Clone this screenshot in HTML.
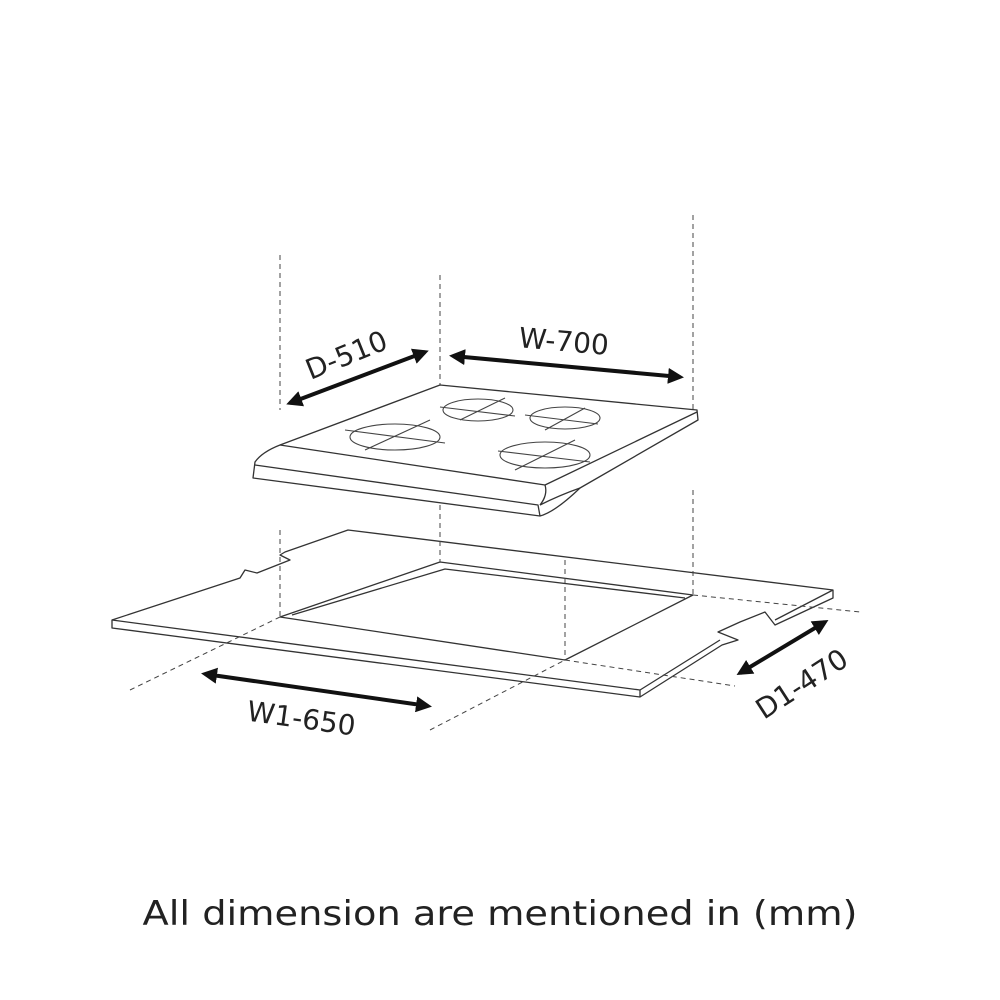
<!DOCTYPE html>
<html><head><style>
html,body{margin:0;padding:0;background:#fff;}
svg{display:block;}
text{font-family:"DejaVu Sans","Liberation Sans",sans-serif;fill:#222;}
</style></head><body>
<svg width="1000" height="1000" viewBox="0 0 1000 1000">
<defs>
<marker id="ah" markerWidth="4" markerHeight="4" refX="3" refY="2" orient="auto-start-reverse" markerUnits="strokeWidth">
<path d="M0,0 L4,2 L0,4 z" fill="#111"/></marker>
</defs>
<g stroke="#333" stroke-width="1.3" fill="#fff" stroke-linejoin="round">
<!-- counter -->
<path d="M112,620 L240,578 L245,570 L257,573 L290,560 L280,555 L285,552 L348,530 L833,590 L833,598 L775,625 L765,612 L740,622 L718,632 L738,640 L722,645 L640,697 L112,628 Z"/>
<path d="M112,620 L640,690 L720,640 M775,620 L833,590" fill="none"/>
<path d="M640,690 L640,697" fill="none"/>
<path d="M280,617 L440,562 L693,595 L565,660 Z"/>
<path d="M292,615 L445,569 L685,598" fill="none"/>
</g>
<g stroke="#444" stroke-width="1" stroke-dasharray="5,4" fill="none">
<line x1="280" y1="255" x2="280" y2="410"/>
<line x1="440" y1="275" x2="440" y2="385"/>
<line x1="693" y1="215" x2="693" y2="410"/>
<line x1="693" y1="490" x2="693" y2="595"/>
<line x1="440" y1="505" x2="440" y2="562"/>
<line x1="280" y1="530" x2="280" y2="617"/>
<line x1="565" y1="560" x2="565" y2="660"/>
<line x1="565" y1="660" x2="735" y2="686"/>
<line x1="693" y1="595" x2="860" y2="612"/>
<line x1="130" y1="690" x2="280" y2="617"/>
<line x1="430" y1="730" x2="565" y2="660"/>
</g>
<g stroke="#333" stroke-width="1.3" fill="#fff" stroke-linejoin="round">
<!-- hob -->
<path d="M280,445 L440,385 L697,410 L698,420 L580,488 Q555,512 540,516 L253,478 L255,462 Q262,452 280,445 Z"/>
<path d="M280,445 L545,485 L697,412" fill="none"/>
<path d="M255,465 L538,505 L540,516" fill="none"/>
<path d="M545,485 Q548,495 540,505" fill="none"/>
<path d="M540,505 Q560,495 580,488" fill="none"/>
</g>
<g stroke="#444" stroke-width="1.1" fill="none">
<ellipse cx="395" cy="437" rx="45" ry="13"/>
<line x1="345" y1="430" x2="445" y2="443"/><line x1="365" y1="450" x2="430" y2="420"/>
<ellipse cx="478" cy="410" rx="35" ry="11"/>
<line x1="440" y1="407" x2="515" y2="416"/><line x1="460" y1="420" x2="505" y2="398"/>
<ellipse cx="565" cy="418" rx="35" ry="11"/>
<line x1="525" y1="415" x2="598" y2="424"/><line x1="545" y1="430" x2="585" y2="408"/>
<ellipse cx="545" cy="455" rx="45" ry="13"/>
<line x1="498" y1="451" x2="590" y2="462"/><line x1="515" y1="470" x2="575" y2="440"/>
</g>
<g stroke="#111" stroke-width="4" marker-start="url(#ah)" marker-end="url(#ah)">
<line x1="290" y1="403" x2="425" y2="352"/>
<line x1="453" y1="356" x2="680" y2="377"/>
<line x1="205" y1="674" x2="428" y2="706"/>
<line x1="740" y1="673" x2="825" y2="622"/>
</g>
<text x="0" y="0" font-size="28" transform="translate(350,364) rotate(-22)" text-anchor="middle">D-510</text>
<text x="0" y="0" font-size="28" transform="translate(563,351) rotate(5)" text-anchor="middle">W-700</text>
<text x="0" y="0" font-size="28" transform="translate(300,728) rotate(8)" text-anchor="middle">W1-650</text>
<text x="0" y="0" font-size="28" transform="translate(807,692) rotate(-33)" text-anchor="middle">D1-470</text>
<text x="500" y="925" font-size="34" text-anchor="middle" textLength="715" lengthAdjust="spacingAndGlyphs">All dimension are mentioned in (mm)</text>
</svg>
</body></html>
